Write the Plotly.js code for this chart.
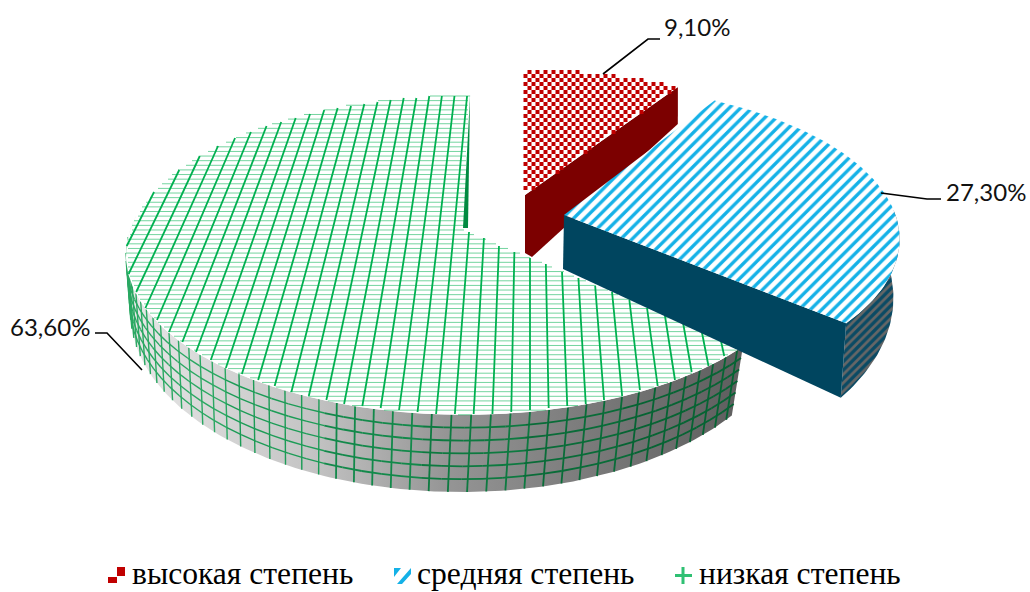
<!DOCTYPE html>
<html><head><meta charset="utf-8">
<script src="https://cdn.plot.ly/plotly-3.0.1.min.js"></script>
<style>html,body{margin:0;padding:0;background:#fff}#c{width:1030px;height:592px}</style>
</head><body><div id="c"></div>
<script>
// ---- chart data ----
const categories = ['высокая степень', 'средняя степень', 'низкая степень'];
const shares = [9.1, 27.3, 63.6];

// ---- 3D look ----
const A = 340, B = 156, K = 0.156;
const cum = [0, shares[0], shares[0] + shares[1], 100].map(v => v * 3.6);
const RED_END = 31, BLUE_END = cum[2] - 1;
const slices = {
  red:   {cx: 525, cy: 205, ay: 195, bx: 528, by: 256, ra: 0.99, rb: 1, a2: 0.97, b2: 1.12},
  blue:  {cx: 564, cy: 215, ay: 215, bx: 563, by: 269, ra: 0.975, rb: 0.97, a2: 0.96, b2: 1.19},
  green: {cx: 465, cy: 230, ay: 230, bx: 461, by: 285, ra: 0.985, rb: 1, a2: 0.96, b2: 1.12}
};
const rad = d => d * Math.PI / 180;
function topPt(s, t) { const w = 1 + K * Math.cos(rad(t)); return [s.cx + s.ra * A * Math.sin(rad(t)) / w, s.cy - s.rb * B * Math.cos(rad(t)) / w]; }
function botPt(s, t) { const w = 1 + K * Math.cos(rad(t)); return [s.bx + A * s.a2 * Math.sin(rad(t)) / w, s.by - s.rb * B * s.b2 * Math.cos(rad(t)) / w]; }
function arc(f, s, t0, t1) { const n = Math.max(2, Math.ceil(Math.abs(t1 - t0))), o = []; for (let i = 0; i <= n; i++) o.push(f(s, t0 + (t1 - t0) * i / n)); return o; }
function inside(p, poly) {
  let c = false;
  for (let i = 0, j = poly.length - 1; i < poly.length; j = i++) {
    const a = poly[i], b = poly[j];
    if ((a[1] > p[1]) !== (b[1] > p[1]) && p[0] < (b[0] - a[0]) * (p[1] - a[1]) / (b[1] - a[1]) + a[0]) c = !c;
  }
  return c;
}
const base = {hoverinfo: 'skip', showlegend: false, type: 'scatter'};
function poly(pts, o) {
  return Object.assign({}, base, {x: pts.map(p => p[0]).concat(pts[0][0]), y: pts.map(p => p[1]).concat(pts[0][1]), mode: 'lines', fill: 'toself', line: {width: 0}}, o);
}
function lines(segs, color, width) {
  const x = [], y = [];
  segs.forEach(s => { s.forEach(p => { x.push(p[0]); y.push(p[1]); }); x.push(null); y.push(null); });
  return Object.assign({}, base, {x, y, mode: 'lines', line: {color, width}, connectgaps: false});
}
function clipSeg(f, t0, t1, step, region) {
  const out = []; let cur = [];
  for (let t = t0; t <= t1; t += step) {
    const p = f(t);
    if (inside(p, region)) cur.push(p); else { if (cur.length > 1) out.push(cur); cur = []; }
  }
  if (cur.length > 1) out.push(cur);
  return out;
}
const traces = [];
// ---- green slice ----
const GS = slices.green, G0 = 132, G1 = 361;
const gTop = [[GS.cx, GS.cy]].concat(arc(topPt, GS, G0, G1));
traces.push(poly(arc(topPt, GS, G0, 275).concat(arc(botPt, GS, 275, G0)), {
  fillgradient: {type: 'horizontal', colorscale: [[0, '#e8e8e8'], [0.3, '#c4c4c4'], [0.52, '#959595'], [1, '#5e5e5e']]}
}));
// wall grid, coloured by position along the wall
const wallCols = ['#2aa862', '#1c9c56', '#12894a', '#0d7a40', '#096c38', '#066433'];
const bucket = x => Math.max(0, Math.min(5, Math.floor((x - 125) / 102)));
const wallSegs = wallCols.map(() => []);
for (let t = G0 + 1.5; t < 268; t += 2.85) { const a = topPt(GS, t), b = botPt(GS, t); wallSegs[bucket(a[0])].push([a, b]); }
[1, 2, 3, 4, 5].forEach(l => {
  const f = l / 6;
  for (let t = G0; t < 272; t += 3) {
    const seg = [t, t + 3].map(q => { const a = topPt(GS, q), b = botPt(GS, q); return [a[0] + (b[0] - a[0]) * f, a[1] + (b[1] - a[1]) * f]; });
    wallSegs[bucket(seg[0][0])].push(seg);
  }
});
wallCols.forEach((c, i) => traces.push(lines(wallSegs[i], c, i < 2 ? 1.4 : 1.8)));
traces.push(poly(gTop, {fillcolor: '#ffffff'}));
// grid on the top of the green slice
const hSegs = [];
for (let y = 96; y < 418; y += 4.62) hSegs.push(...clipSeg(x => [x, y], 110, 760, 2, gTop));
traces.push(lines(hSegs, 'rgba(0,176,80,0.55)', 1));
const vp = [530, -550], fanSegs = [];
for (let i = -30; i <= 16; i++) {
  const xb = 530 + 15.2 * i;
  fanSegs.push(...clipSeg(y => [vp[0] + (xb - vp[0]) * (y - vp[1]) / (230 - vp[1]), y], 90, 420, 2, gTop));
}
traces.push(lines(fanSegs, '#00b050', 1.8));
const gEnd = topPt(GS, G1);
traces.push(poly([gEnd, [GS.cx - 2, GS.cy - 2], [GS.cx + 3, GS.cy - 2]], {fillcolor: '#008a40'}));
// ---- red slice ----
const RS = slices.red;
const rTop = [[RS.cx, RS.ay]].concat(arc(topPt, RS, 0, RED_END));
traces.push(poly([topPt(RS, RED_END), botPt(RS, RED_END), [RS.bx + 4, RS.by + 1], [RS.cx, RS.by - 3], [RS.cx, RS.ay]], {fillcolor: '#7c0000'}));
traces.push(poly(rTop, {fillcolor: '#ffffff'}));
const cx = [], cy = [];
for (let r = 0; r < 36; r++) for (let c = 0; c < 24; c++) {
  const p = [525.5 + c * 8 + (r % 2) * 4, 68 + r * 4];
  if (inside(p, rTop)) { cx.push(p[0]); cy.push(p[1]); }
}
traces.push(Object.assign({}, base, {x: cx, y: cy, mode: 'markers', marker: {symbol: 'square', size: 4, color: '#c00000', line: {width: 0}}}));
// ---- blue slice ----
const BS = slices.blue;
traces.push(poly(arc(topPt, BS, BLUE_END, 88).concat(arc(botPt, BS, 88, BLUE_END)), {
  fillpattern: {shape: '/', size: 6, solidity: 0.55, fgcolor: '#0a4a64', bgcolor: '#666666'}, fillcolor: '#666666'
}));
traces.push(poly([[BS.cx, BS.cy], topPt(BS, BLUE_END), botPt(BS, BLUE_END), [BS.bx, BS.by]], {fillcolor: '#00455f'}));
traces.push(poly([[BS.cx, BS.cy]].concat(arc(topPt, BS, RED_END, BLUE_END)), {
  fillpattern: {shape: '/', size: 8, solidity: 0.42, fgcolor: '#14b1e7', bgcolor: '#ffffff'}, fillcolor: '#ffffff'
}));

const fmt = v => v.toFixed(2).replace('.', ',') + '%';
const lblFont = {family: 'Lato, sans-serif', size: 24, color: '#111'};
const annotations = [
  {x: 662, y: 26, text: fmt(shares[0]), xanchor: 'left'},
  {x: 944, y: 191, text: fmt(shares[1]), xanchor: 'left'},
  {x: 8, y: 326, text: fmt(shares[2]), xanchor: 'left'}
].map(a => Object.assign(a, {xref: 'x', yref: 'y', yanchor: 'middle', showarrow: false, font: lblFont}));
// legend entries are written as text beside their swatches
const legendX = [131, 416, 698];
categories.forEach((n, i) => annotations.push({x: legendX[i], y: 573.5, text: n, xref: 'x', yref: 'y', xanchor: 'left', yanchor: 'middle', showarrow: false, borderpad: 0,
  font: {family: 'Liberation Serif', size: 31.6, color: '#000'}}));
const leader = d => ({type: 'path', xref: 'x', yref: 'y', path: d, line: {color: '#000', width: 1.6}});
const shapes = [
  leader('M603,74 L648,39 L660,39'),
  leader('M881,193 L927,199 L941,199'),
  leader('M142,370 L107,333 L95,333'),
  // legend swatches
  {type: 'path', xref: 'x', yref: 'y', path: 'M108,577 H117 V583 H108 Z M117,567 H125 V576 H117 Z', fillcolor: '#c00000', line: {width: 0}},
  {type: 'path', xref: 'x', yref: 'y', path: 'M394,568 H401 L394,577 Z M411,568 V574 L402,584 H397 Z', fillcolor: '#14b1e7', line: {width: 0}},
  {type: 'path', xref: 'x', yref: 'y', path: 'M683,567 V584 M675,575.5 H692', line: {color: '#2fc073', width: 3}}
];
Plotly.newPlot('c', traces, {
  width: 1030, height: 592, margin: {l: 0, r: 0, t: 0, b: 0, autoexpand: false},
  paper_bgcolor: '#fff', plot_bgcolor: '#fff',
  xaxis: {range: [0, 1030], visible: false, fixedrange: true},
  yaxis: {range: [592, 0], visible: false, fixedrange: true},
  showlegend: false,
  annotations, shapes
}, {displayModeBar: false, staticPlot: true});
</script></body></html>
